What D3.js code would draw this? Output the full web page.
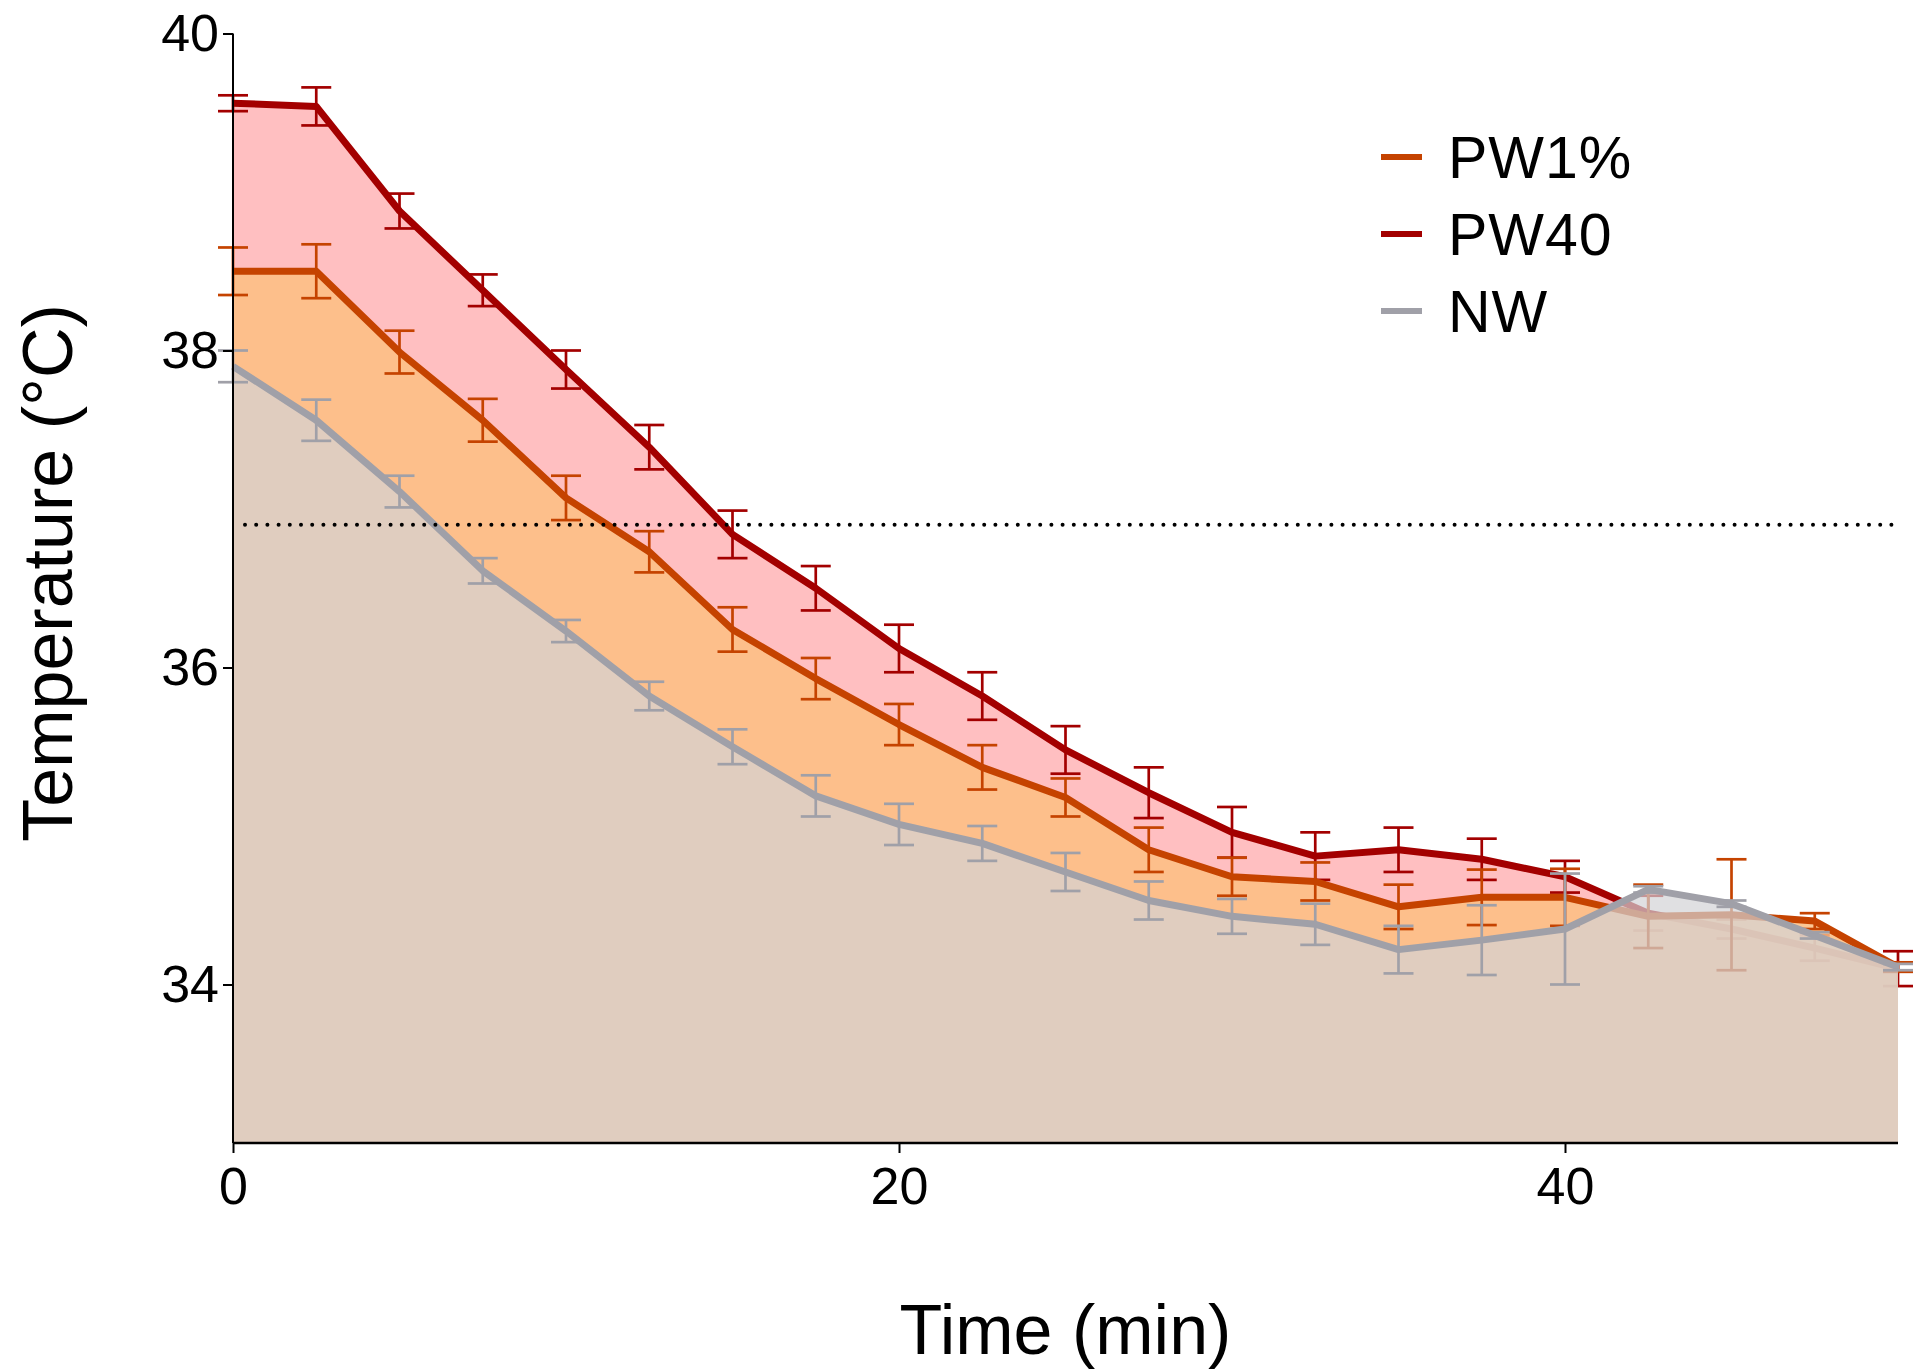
<!DOCTYPE html>
<html>
<head>
<meta charset="utf-8">
<script src="https://cdn.jsdelivr.net/npm/d3@7"></script>
<style>
  body { margin: 0; background: #fff; }
  svg text { font-family: "Liberation Sans", Arial, sans-serif; fill: #000; }
</style>
</head>
<body>
<svg id="chart"></svg>
<script>
// data
var times = [0, 2.5, 5, 7.5, 10, 12.5, 15, 17.5, 20, 22.5, 25, 27.5, 30, 32.5, 35, 37.5, 40, 42.5, 45, 47.5, 50];

var pw40 = [39.56, 39.54, 38.88, 38.38, 37.88, 37.39, 36.84, 36.50, 36.12, 35.82, 35.48, 35.21, 34.96, 34.81, 34.85, 34.79, 34.68, 34.45, 34.35, 34.23, 34.10];
var pw40Err = [0.05, 0.12, 0.11, 0.10, 0.12, 0.14, 0.15, 0.14, 0.15, 0.15, 0.15, 0.16, 0.16, 0.15, 0.14, 0.13, 0.10, 0.11, 0.06, 0.08, 0.11];

var pw1 = [38.50, 38.50, 37.99, 37.56, 37.07, 36.73, 36.24, 35.93, 35.64, 35.37, 35.18, 34.85, 34.68, 34.65, 34.49, 34.55, 34.55, 34.43, 34.44, 34.40, 34.11];
var pw1Err = [0.15, 0.17, 0.135, 0.135, 0.14, 0.13, 0.14, 0.13, 0.13, 0.14, 0.12, 0.14, 0.12, 0.12, 0.14, 0.175, 0.18, 0.20, 0.35, 0.05, 0.03];

var nw = [37.90, 37.56, 37.11, 36.61, 36.23, 35.82, 35.50, 35.19, 35.01, 34.89, 34.71, 34.53, 34.43, 34.38, 34.22, 34.28, 34.35, 34.60, 34.51, 34.31, 34.11];
var nwErr = [0.10, 0.13, 0.10, 0.08, 0.07, 0.09, 0.11, 0.13, 0.13, 0.11, 0.12, 0.12, 0.11, 0.13, 0.15, 0.22, 0.35, 0.02, 0.02, 0.02, 0.02];

var xTicks = [0, 20, 40];
var yTicks = [34, 36, 38, 40];
var refTemp = 36.9;

var seriesNames = ['PW1%', 'PW40', 'NW'];

var margin = { top: 33.5, right: 21, bottom: 229, left: 233 };
var W = 1919, H = 1372;
var width = W - margin.left - margin.right;
var height = H - margin.top - margin.bottom;

var svg = d3.select('#chart').attr('width', W).attr('height', H);
var g = svg.append('g').attr('transform', 'translate(' + margin.left + ',' + margin.top + ')');

var x = d3.scaleLinear().domain([0, 50]).range([0, width]);
var y = d3.scaleLinear().domain([33, 40]).range([height, 0]);

// drawn back to front: PW40, PW1%, NW
var series = [
  { name: 'PW40', vals: pw40, err: pw40Err, line: '#a30000', fill: '#ffbfc1', opacity: 1 },
  { name: 'PW1%', vals: pw1, err: pw1Err, line: '#c54300', fill: 'rgb(253,190,129)', opacity: 0.85 },
  { name: 'NW', vals: nw, err: nwErr, line: '#a0a0a8', fill: 'rgb(211,211,213)', opacity: 0.7 }
];

series.forEach(function(s) {
  var pts = times.map(function(t, i) { return { t: t, v: s.vals[i], e: s.err[i] }; });

  var area = d3.area()
    .x(function(d) { return x(d.t); })
    .y0(y(33))
    .y1(function(d) { return y(d.v); });

  var line = d3.line()
    .x(function(d) { return x(d.t); })
    .y(function(d) { return y(d.v); });

  g.append('path')
    .datum(pts)
    .attr('d', area)
    .style('fill', s.fill)
    .style('fill-opacity', s.opacity);

  g.append('path')
    .datum(pts)
    .attr('d', line)
    .style('fill', 'none')
    .style('stroke', s.line)
    .style('stroke-width', 7)
    .style('stroke-linejoin', 'round');

  // error bars
  var bars = g.append('g').selectAll('g').data(pts).enter().append('g')
    .style('stroke', s.line)
    .style('stroke-width', 2.7);
  bars.append('line')
    .attr('x1', function(d) { return x(d.t); })
    .attr('x2', function(d) { return x(d.t); })
    .attr('y1', function(d) { return y(d.v + d.e); })
    .attr('y2', function(d) { return y(d.v - d.e); });
  bars.append('line')
    .attr('x1', function(d) { return x(d.t) - 15; })
    .attr('x2', function(d) { return x(d.t) + 15; })
    .attr('y1', function(d) { return y(d.v + d.e); })
    .attr('y2', function(d) { return y(d.v + d.e); });
  bars.append('line')
    .attr('x1', function(d) { return x(d.t) - 15; })
    .attr('x2', function(d) { return x(d.t) + 15; })
    .attr('y1', function(d) { return y(d.v - d.e); })
    .attr('y2', function(d) { return y(d.v - d.e); });
});

// dotted reference line
g.append('line')
  .attr('x1', x(0) + 12)
  .attr('x2', x(50))
  .attr('y1', y(refTemp))
  .attr('y2', y(refTemp))
  .style('stroke', '#000')
  .style('stroke-width', 4)
  .style('stroke-linecap', 'round')
  .style('stroke-dasharray', '0 11.2');

// axes
var xAxis = d3.axisBottom(x).tickValues(xTicks).tickSize(10).tickPadding(14).tickFormat(d3.format('d'));
var yAxis = d3.axisLeft(y).tickValues(yTicks).tickSize(10).tickPadding(4).tickFormat(d3.format('d'));

var gx = g.append('g')
  .attr('transform', 'translate(0,' + height + ')')
  .call(xAxis);
gx.select('.domain').attr('d', 'M0,0H' + width).style('stroke-width', 2.5);

var gy = g.append('g').call(yAxis);
gy.select('.domain').attr('d', 'M0,' + height + 'V' + y(40)).style('stroke-width', 2);

g.selectAll('.tick line').style('stroke-width', 2);
g.selectAll('.tick text').style('font-size', '52px').style('font-family', '"Liberation Sans", Arial, sans-serif');

// axis titles
svg.append('text')
  .attr('x', margin.left + width / 2)
  .attr('y', 1354)
  .attr('text-anchor', 'middle')
  .style('font-size', '70px')
  .text('Time (min)');

svg.append('text')
  .attr('transform', 'translate(72,573) rotate(-90)')
  .attr('text-anchor', 'middle')
  .style('font-size', '70px')
  .text('Temperature (°C)');

// legend
var legendColors = { 'PW1%': '#c54300', 'PW40': '#a30000', 'NW': '#a0a0a8' };
var leg = svg.append('g').selectAll('g').data(seriesNames).enter().append('g')
  .attr('transform', function(d, i) { return 'translate(1381,' + (157 + i * 77) + ')'; });
leg.append('line')
  .attr('x1', 0).attr('x2', 41)
  .style('stroke', function(d) { return legendColors[d]; })
  .style('stroke-width', 6);
leg.append('text')
  .attr('x', 67)
  .attr('y', 21)
  .style('font-size', '59px')
  .style('letter-spacing', '1px')
  .text(function(d) { return d; });
</script>
</body>
</html>
